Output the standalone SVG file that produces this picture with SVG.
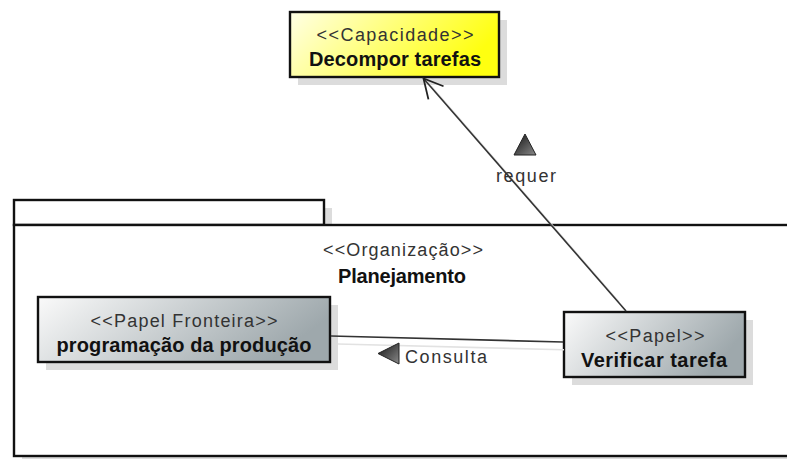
<svg xmlns="http://www.w3.org/2000/svg" width="787" height="459" viewBox="0 0 787 459">
<style>
.shadow{fill:#dcdcdc;stroke:none}
.box{stroke:#111;stroke-width:2.4}
.pkg{fill:#fff;stroke:#111;stroke-width:2.4}
.st{font-family:"Liberation Sans",Arial,sans-serif;font-size:18px;fill:#333;text-anchor:middle}
.nm{font-family:"Liberation Sans",Arial,sans-serif;font-size:20px;font-weight:bold;fill:#111;text-anchor:middle}
.lbl{font-family:"Liberation Sans",Arial,sans-serif;font-size:18px;fill:#333}
.conn{stroke:#333;stroke-width:1.6;fill:none}
.connsh{stroke:#e2e2e2;stroke-width:1.6;fill:none}
</style>
<defs>
<linearGradient id="gY" x1="0" y1="0" x2="1" y2="0.3">
<stop offset="0" stop-color="#ffffe6"/>
<stop offset="1" stop-color="#ffff10"/>
</linearGradient>
<linearGradient id="gG" x1="0" y1="0" x2="1" y2="0.3">
<stop offset="0" stop-color="#fafafa"/>
<stop offset="1" stop-color="#9ea8ac"/>
</linearGradient>
<linearGradient id="gT" x1="0" y1="0" x2="1" y2="1">
<stop offset="0" stop-color="#111"/>
<stop offset="1" stop-color="#8a8a8a"/>
</linearGradient>
<marker id="open" markerWidth="24" markerHeight="24" refX="20" refY="12" orient="auto" markerUnits="userSpaceOnUse">
<path d="M1,2 L20,12 L1,22" fill="none" stroke="#222" stroke-width="1.8"/>
</marker>
</defs>

<g id="pkg-planejamento">
<rect class="shadow" x="22" y="208" width="310" height="25"/>
<rect class="shadow" x="22" y="233" width="790" height="232"/>
<rect class="pkg" x="14" y="200" width="310" height="25"/>
<rect class="pkg" x="14" y="225" width="790" height="231"/>
<text class="st" x="403" y="256" textLength="160" lengthAdjust="spacing">&lt;&lt;Organização&gt;&gt;</text>
<text class="nm" x="402" y="283" textLength="128" lengthAdjust="spacing">Planejamento</text>
</g>

<g id="node-decompor-tarefas">
<rect class="shadow" x="298" y="20" width="209" height="65"/>
<rect class="box" x="290" y="12" width="209" height="65" fill="url(#gY)"/>
<text class="st" x="395" y="41" textLength="157" lengthAdjust="spacing">&lt;&lt;Capacidade&gt;&gt;</text>
<text class="nm" x="395" y="66" textLength="172" lengthAdjust="spacing">Decompor tarefas</text>
</g>

<g id="node-programacao">
<rect class="shadow" x="46" y="305" width="292" height="65"/>
<rect class="box" x="38" y="297" width="292" height="65" fill="url(#gG)"/>
<text class="st" x="184" y="327" textLength="187" lengthAdjust="spacing">&lt;&lt;Papel Fronteira&gt;&gt;</text>
<text class="nm" x="184" y="352" textLength="255" lengthAdjust="spacing">programação da produção</text>
</g>

<g id="node-verificar-tarefa">
<rect class="shadow" x="572" y="320" width="181" height="65"/>
<rect class="box" x="564" y="312" width="181" height="65" fill="url(#gG)"/>
<text class="st" x="655" y="342" textLength="99" lengthAdjust="spacing">&lt;&lt;Papel&gt;&gt;</text>
<text class="nm" x="654" y="367" textLength="146" lengthAdjust="spacing">Verificar tarefa</text>
</g>

<g id="connectors">
<line class="connsh" x1="338" y1="344" x2="564" y2="349.8"/>
<line class="connsh" x1="619" y1="302" x2="431" y2="86"/>
<g id="conn-consulta">
<line class="conn" x1="331" y1="336" x2="563" y2="342"/>
<polygon points="378,353.5 399,343 399,364" fill="url(#gT)" stroke="#222" stroke-width="1"/>
<text class="lbl" x="405" y="363" textLength="82" lengthAdjust="spacing">Consulta</text>
</g>
<g id="conn-requer">
<line class="conn" x1="626" y1="311" x2="423.5" y2="78.5" marker-end="url(#open)"/>
<polygon points="525,134 514,155 536,155" fill="url(#gT)" stroke="#222" stroke-width="1"/>
<text class="lbl" x="496" y="182" textLength="60" lengthAdjust="spacing">requer</text>
</g>
</g>
</svg>
